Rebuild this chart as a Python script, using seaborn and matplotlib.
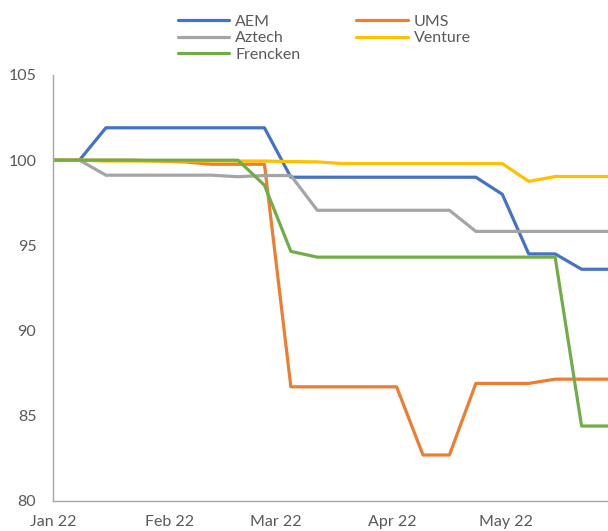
import matplotlib
matplotlib.use("Agg")
import matplotlib.pyplot as plt
import matplotlib.dates as mdates
import numpy as np
import pandas as pd
import seaborn as sns

# Weekly index values (rebased to 100 at the start of the year)
dates = pd.date_range("2022-01-01", periods=22, freq="7D")

aem = [100, 100, 101.9, 101.9, 101.9, 101.9, 101.9, 101.9, 101.9, 99.0, 99.0,
       99.0, 99.0, 99.0, 99.0, 99.0, 99.0, 98.0, 94.5, 94.5, 93.6, 93.6]
ums = [100, 100, 100, 100, 99.95, 99.9, 99.76, 99.76, 99.76, 86.7, 86.7,
       86.7, 86.7, 86.7, 82.7, 82.7, 86.9, 86.9, 86.9, 87.15, 87.15, 87.15]
aztech = [100, 100, 99.12, 99.12, 99.12, 99.12, 99.12, 99.03, 99.1, 99.1, 97.06,
          97.06, 97.06, 97.06, 97.06, 97.06, 95.82, 95.82, 95.82, 95.82, 95.82, 95.82]
venture = [100, 100, 99.95, 99.95, 99.95, 99.95, 99.95, 99.95, 99.95, 99.92, 99.9,
           99.8, 99.8, 99.8, 99.8, 99.8, 99.8, 99.8, 98.76, 99.04, 99.04, 99.04]
frencken = [100, 100, 100, 100, 100, 100, 100, 100, 98.53, 94.65, 94.31,
            94.31, 94.31, 94.31, 94.31, 94.31, 94.31, 94.31, 94.31, 94.31, 84.4, 84.4]

names = ["AEM", "UMS", "Aztech", "Venture", "Frencken"]
colors = ["#4472C4", "#ED7D31", "#A5A5A5", "#FFC000", "#70AD47"]
series = [aem, ums, aztech, venture, frencken]

df = pd.concat(
    [pd.DataFrame({"date": dates, "value": vals, "name": n}) for n, vals in zip(names, series)],
    ignore_index=True,
)

sns.set_style("white")
plt.rcParams["font.family"] = ["Lato", "DejaVu Sans"]

text_color = "#595959"
axis_color = "#A6A6A6"

fig = plt.figure(figsize=(6.08, 5.31), dpi=100)
ax = fig.add_axes([0.0872, 0.0565, 0.9128, 0.8023])

sns.lineplot(data=df, x="date", y="value", hue="name", hue_order=names,
             palette=dict(zip(names, colors)), linewidth=2.3, ax=ax, legend=False)

ax.set_xlim(dates[0], dates[-1])
ax.set_ylim(80, 105)
ax.set_yticks([80, 85, 90, 95, 100, 105])
ax.xaxis.set_major_locator(mdates.MonthLocator())
ax.xaxis.set_major_formatter(mdates.DateFormatter("%b %y"))
ax.set_xlabel("")
ax.set_ylabel("")

for side in ["top", "right"]:
    ax.spines[side].set_visible(False)
for side in ["left", "bottom"]:
    ax.spines[side].set_color(axis_color)
    ax.spines[side].set_linewidth(1.0)

ax.tick_params(axis="y", length=0, pad=12, labelsize=11.5, labelcolor=text_color)
ax.tick_params(axis="x", length=0, pad=10, labelsize=11.5, labelcolor=text_color)

# Legend: two columns, first column AEM / Aztech / Frencken
handles = [plt.Line2D([], [], color=c, linewidth=2.3) for c in colors]
order = [0, 2, 4, 1, 3]
fig.legend([handles[i] for i in order], [names[i] for i in order],
           ncol=2, loc="upper center", bbox_to_anchor=(0.533, 1.0),
           frameon=False, fontsize=11.5, labelcolor=text_color,
           handlelength=3.25, handletextpad=0.35, columnspacing=3.5,
           labelspacing=0.15)

fig.savefig("out.png", dpi=100)
